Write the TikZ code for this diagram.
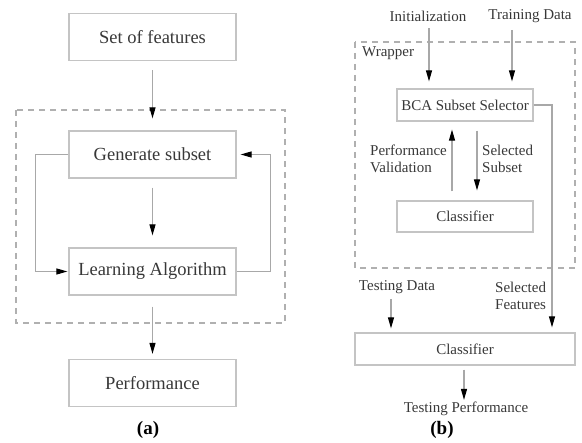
\documentclass[tikz,border=0pt]{standalone}
\usepackage{fontspec}
\setmainfont{Liberation Serif}
\usepackage{tikz}
\usetikzlibrary{arrows.meta,positioning,calc}
\definecolor{BoxGrey}{HTML}{C4C4C4}
\definecolor{LineGrey}{HTML}{A8A8A8}
\definecolor{TextGrey}{HTML}{383838}
\definecolor{DashGrey}{HTML}{B0B0B0}
\newcommand{\bigfont}{\fontsize{18.5}{21}\selectfont}
\newcommand{\smallfont}{\fontsize{15}{17}\selectfont}
\begin{document}
\begin{tikzpicture}[x=1pt,y=-1pt,
  bigbox/.style={draw=BoxGrey,line width=1.2pt,minimum width=167pt,minimum height=47pt,font=\bigfont,text=TextGrey},
  smallbox/.style={draw=BoxGrey,line width=1.2pt,minimum width=136pt,minimum height=31pt,font=\smallfont,text=TextGrey},
  lbl/.style={font=\smallfont,text=TextGrey,inner sep=1pt,align=left},
  arr/.style={draw=LineGrey,line width=1.1pt,-{Triangle[length=11pt,width=6pt,color=black]}},
  plain/.style={draw=LineGrey,line width=1.1pt},
  wrapbox/.style={draw=DashGrey,line width=1.2pt,dash pattern=on 6pt off 5pt}]
  \useasboundingbox (0,0) rectangle (582,443);
  % (a) wrapper scheme
  \draw[wrapbox] (16,110) rectangle (285,323);
  \node[bigbox] (feat) at (152.5,37){Set of features};
  \node[bigbox] (gen) at (152.5,154.5){Generate subset};
  \node[bigbox] (learn) at (152.5,271.5){Learning Algorithm};
  \node[bigbox] (perf) at (152.5,383){Performance};
  \draw[arr,shorten <=9pt,shorten >=12pt] (feat) -- (gen);
  \draw[arr,shorten <=9pt,shorten >=12pt] (gen) -- (learn);
  \draw[arr,shorten <=11pt,shorten >=5pt] (learn) -- (perf);
  \draw[arr,shorten >=1pt] (gen.west) -- ([xshift=-33pt]gen.west) |- (learn.west);
  \draw[arr,shorten >=4pt] (learn.east) -- ([xshift=34pt]learn.east) |- (gen.east);
  \node[font=\fontsize{19}{21}\selectfont\bfseries] (capa) at (148,430){(a)};
  % (b) BCA scheme
  \draw[wrapbox] (355,42) rectangle (575,268);
  \node[lbl,anchor=west] (wrap) at (361,53){Wrapper};
  \node[lbl] (init) at (428,16){Initialization};
  \node[lbl] (train) at (530,16){Training Data};
  \node[smallbox,minimum height=32pt] (bca) at (465,105){BCA Subset Selector};
  \node[smallbox] (clf) at (465,216.5){Classifier};
  \node[smallbox,minimum width=220pt,minimum height=32pt] (clftest) at (465,349){Classifier};
  \node[lbl,anchor=west] (perfval) at (369,159){Performance\\Validation};
  \node[lbl,anchor=west] (selsub) at (481,159){Selected\\Subset};
  \node[lbl] (testdata) at (397,287){Testing Data};
  \node[lbl,anchor=west] (selfeat) at (494,296){Selected\\Features};
  \node[lbl] (testperf) at (466,409){Testing Performance};
  \node[font=\fontsize{19}{21}\selectfont\bfseries] (capb) at (442,430){(b)};
  \draw[arr,shorten <=6pt,shorten >=7pt] ([xshift=1pt]init.south) -- ([xshift=1pt]init.south |- bca.north);
  \draw[arr,shorten <=6pt,shorten >=7pt] ([xshift=-18pt]train.south) -- ([xshift=-18pt]train.south |- bca.north);
  \draw[arr,shorten <=9pt,shorten >=8pt] ([xshift=-13pt]clf.north) -- ([xshift=-13pt]bca.south);
  \draw[arr,shorten <=9pt,shorten >=10pt] ([xshift=12pt]bca.south) -- ([xshift=12pt]clf.north);
  \draw[arr,shorten >=5pt] (bca.east) -| ([xshift=87pt]clftest.north);
  \draw[arr,shorten <=4pt,shorten >=4pt] ([xshift=-6pt]testdata.south) -- ([xshift=-6pt]testdata.south |- clftest.north);
  \draw[arr,shorten <=4pt,shorten >=1pt] ([xshift=-1pt]clftest.south) -- ([xshift=-1pt]clftest.south |- testperf.north);
\end{tikzpicture}
\end{document}
